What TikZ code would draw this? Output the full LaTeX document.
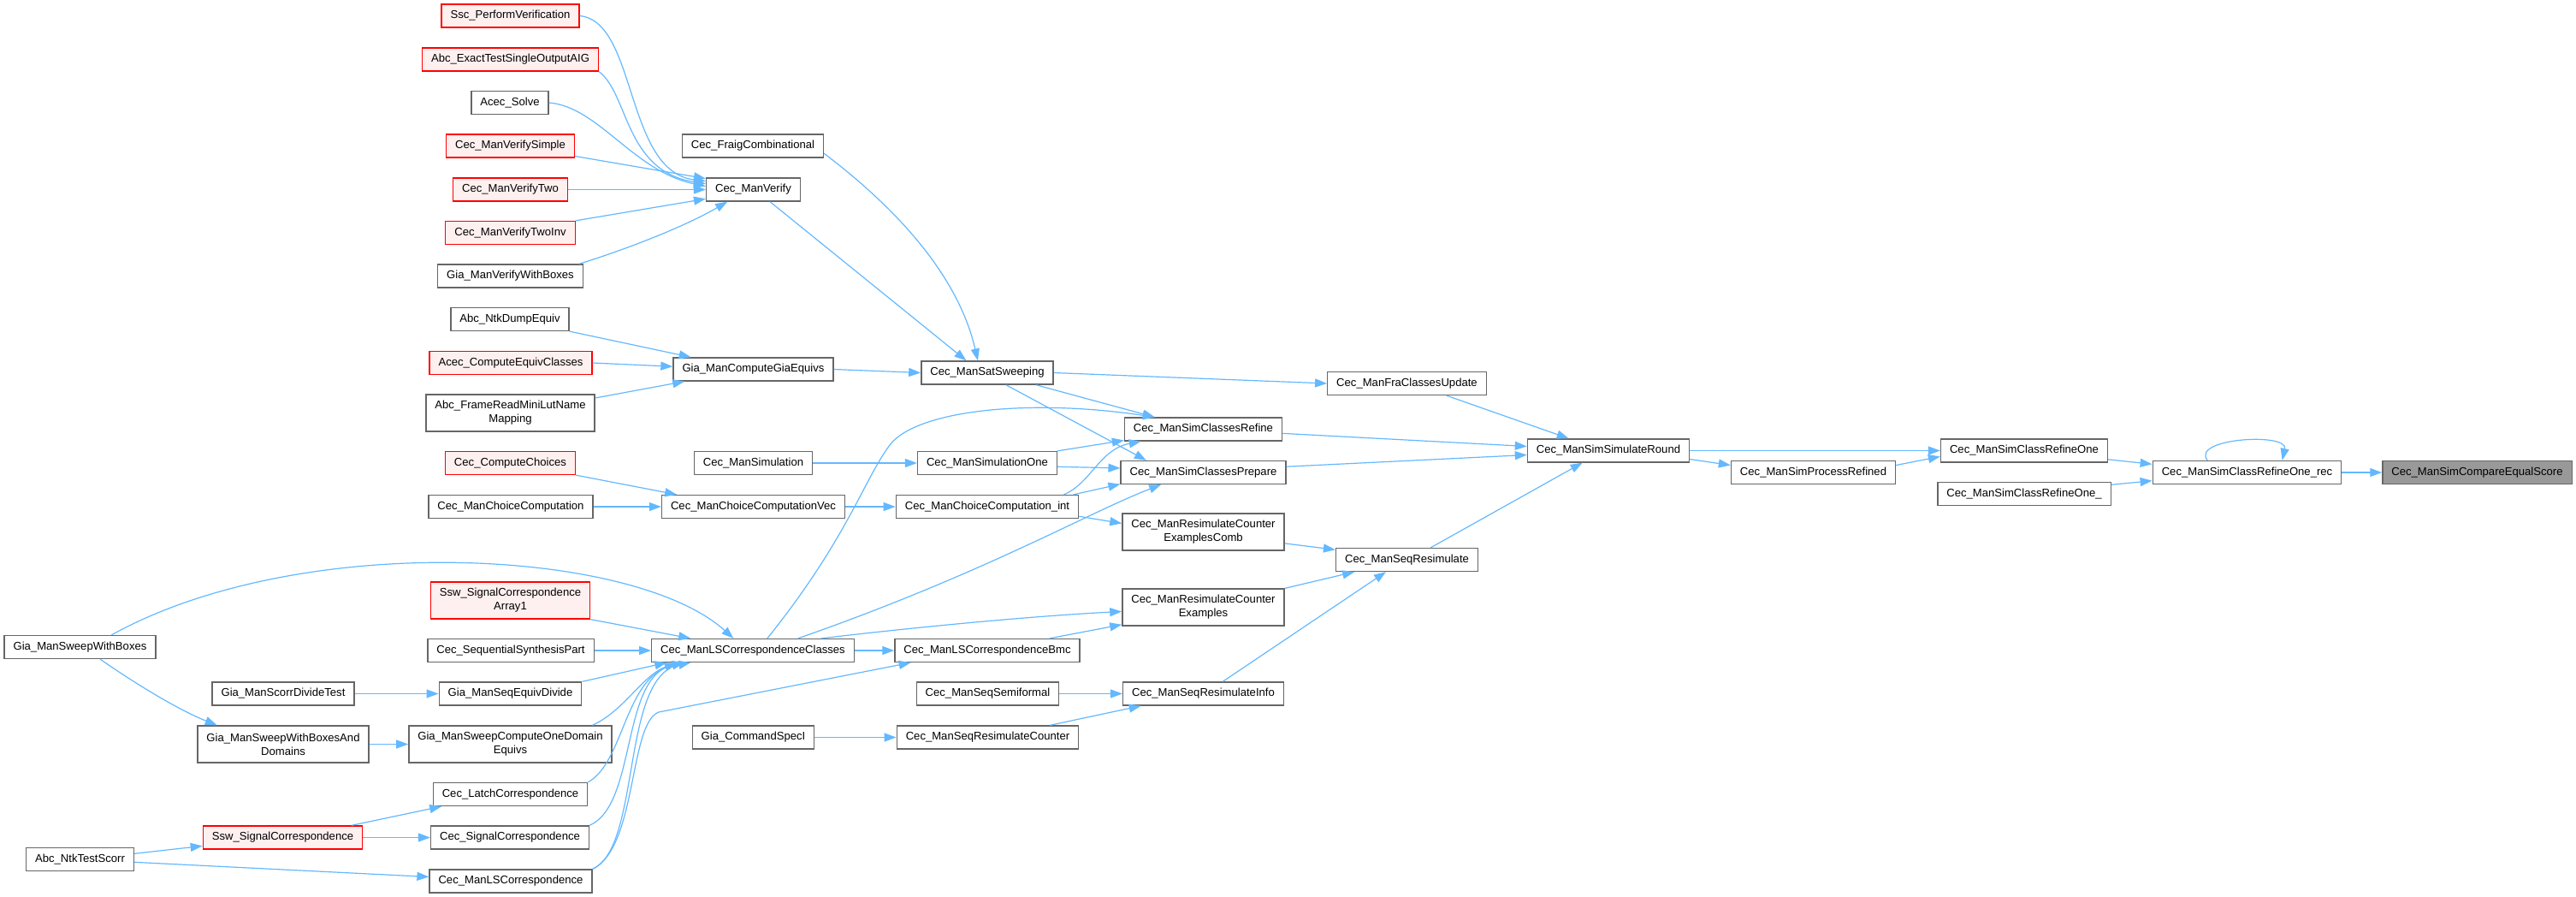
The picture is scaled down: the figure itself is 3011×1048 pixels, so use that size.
\documentclass[tikz,border=0pt]{standalone}
\usepackage{fontspec}
\setmainfont{Liberation Sans}
\usetikzlibrary{arrows.meta}
\definecolor{callblue}{HTML}{63B8FF}
\definecolor{boxgrey}{HTML}{666666}
\definecolor{redfill}{HTML}{FFF0F0}
\definecolor{mainfill}{HTML}{999999}
\begin{document}
\begin{tikzpicture}[x=1pt,y=-1pt,
    fn/.style={draw=boxgrey,fill=white,line width=1.3pt,inner xsep=10.5pt,
        inner ysep=0pt,minimum height=27pt,font=\fontsize{13.1}{16}\selectfont},
    fnred/.style={fn,draw=red,fill=redfill},
    fnmain/.style={fn,fill=mainfill},
    two/.style={minimum height=43pt,align=center},
    call/.style={draw=callblue,line width=1.2pt,-{Triangle[length=14pt,width=10pt]}}]
\useasboundingbox (0,0) rectangle (3011,1048);
% callers, leftmost columns
\node[fn] (sweepboxes) at (93.5,756) {Gia\_ManSweepWithBoxes};
\node[fn] (testscorr) at (93.5,1004) {Abc\_NtkTestScorr};
\node[fn] (scorrtest) at (331,810.5) {Gia\_ManScorrDivideTest};
\node[fn,two] (sweepdomains) at (331,869.5) {Gia\_ManSweepWithBoxesAnd\\Domains};
\node[fnred] (sswcorr) at (330.5,978.5) {Ssw\_SignalCorrespondence};
\node[fnred] (ssc) at (596.5,18.5) {Ssc\_PerformVerification};
\node[fnred] (abcexact) at (596.5,69.5) {Abc\_ExactTestSingleOutputAIG};
\node[fn] (acecsolve) at (596,120) {Acec\_Solve};
\node[fnred] (vsimple) at (596.5,170.5) {Cec\_ManVerifySimple};
\node[fnred] (vtwo) at (596.5,221.5) {Cec\_ManVerifyTwo};
\node[fnred] (vtwoinv) at (596.5,272) {Cec\_ManVerifyTwoInv};
\node[fn] (vboxes) at (596.5,322.5) {Gia\_ManVerifyWithBoxes};
\node[fn] (dumpequiv) at (596,373) {Abc\_NtkDumpEquiv};
\node[fnred] (acecequiv) at (597,424) {Acec\_ComputeEquivClasses};
\node[fn,two] (lutmap) at (596.5,482.5) {Abc\_FrameReadMiniLutName\\Mapping};
\node[fnred] (choices) at (596.5,541) {Cec\_ComputeChoices};
\node[fn] (choicecomp) at (597,592) {Cec\_ManChoiceComputation};
\node[fnred,two] (array1) at (596.5,701.5) {Ssw\_SignalCorrespondence\\Array1};
\node[fn] (synthpart) at (597,760) {Cec\_SequentialSynthesisPart};
\node[fn] (seqdivide) at (596.5,810.5) {Gia\_ManSeqEquivDivide};
\node[fn,two] (onedomain) at (596.5,869.5) {Gia\_ManSweepComputeOneDomain\\Equivs};
\node[fn] (latchcorr) at (596.5,928) {Cec\_LatchCorrespondence};
\node[fn] (signalcorr) at (596,978.5) {Cec\_SignalCorrespondence};
\node[fn] (lscorr) at (597,1029.5) {Cec\_ManLSCorrespondence};
\node[fn] (fraigcomb) at (880,170.5) {Cec\_FraigCombinational};
\node[fn] (manverify) at (880.5,221.5) {Cec\_ManVerify};
\node[fn] (giaequivs) at (880.5,431.5) {Gia\_ManComputeGiaEquivs};
\node[fn] (simulation) at (880.5,541) {Cec\_ManSimulation};
\node[fn] (choicevec) at (880.5,592) {Cec\_ManChoiceComputationVec};
\node[fn] (lscc) at (880,760) {Cec\_ManLSCorrespondenceClasses};
\node[fn] (specI) at (880.5,861.5) {Gia\_CommandSpecI};
% middle columns
\node[fn] (satsweep) at (1154,435.5) {Cec\_ManSatSweeping};
\node[fn] (simone) at (1154,541) {Cec\_ManSimulationOne};
\node[fn] (choiceint) at (1154,592) {Cec\_ManChoiceComputation\_int};
\node[fn] (bmc) at (1154,760) {Cec\_ManLSCorrespondenceBmc};
\node[fn] (semiformal) at (1154.5,810.5) {Cec\_ManSeqSemiformal};
\node[fn] (resimcounter) at (1154.5,861.5) {Cec\_ManSeqResimulateCounter};
\node[fn] (refine) at (1406.5,501.5) {Cec\_ManSimClassesRefine};
\node[fn] (prepare) at (1406.5,552) {Cec\_ManSimClassesPrepare};
\node[fn,two] (rescomb) at (1406.5,621.5) {Cec\_ManResimulateCounter\\ExamplesComb};
\node[fn,two] (rescex) at (1406.5,709.5) {Cec\_ManResimulateCounter\\Examples};
\node[fn] (resiminfo) at (1406.5,810.5) {Cec\_ManSeqResimulateInfo};
\node[fn] (fraupdate) at (1644.5,448) {Cec\_ManFraClassesUpdate};
\node[fn] (seqresim) at (1644.5,654) {Cec\_ManSeqResimulate};
% right columns
\node[fn] (simround) at (1880,526.5) {Cec\_ManSimSimulateRound};
\node[fn] (processref) at (2119.5,552) {Cec\_ManSimProcessRefined};
\node[fn] (refineone) at (2366,526.5) {Cec\_ManSimClassRefineOne};
\node[fn] (refineoneu) at (2366,577) {Cec\_ManSimClassRefineOne\_};
\node[fn] (refinerec) at (2626.5,552) {Cec\_ManSimClassRefineOne\_rec};
\node[fnmain] (equalscore) at (2895.5,552) {Cec\_ManSimCompareEqualScore};
% straight calls
\foreach \a/\b in {vtwo/manverify,giaequivs/satsweep,satsweep/fraupdate,
    simulation/simone,choicecomp/choicevec,choicevec/choiceint,lscc/bmc,
    semiformal/resiminfo,specI/resimcounter,synthpart/lscc,scorrtest/seqdivide,
    sweepdomains/onedomain,sswcorr/signalcorr,simround/refineone,refinerec/equalscore}
    \draw[call] (\a.east) -- (\b.west);
\foreach \a/\b in {vsimple.351/manverify.167,vtwoinv.north east/manverify.191,
    dumpequiv.south east/giaequivs.169,acecequiv.east/giaequivs.178,
    lutmap.10/giaequivs.190,manverify.324/satsweep.150,satsweep.346/refine.166,
    satsweep.327/prepare.168,fraupdate.343/simround.163,refine.357/simround.177,
    prepare.4/simround.183,simone.north east/refine.188,simone.357/prepare.177,
    choices.south east/choicevec.171,choiceint.8/prepare.188,choiceint.354/rescomb.174,
    bmc.11/rescex.192,rescomb.352/seqresim.172,rescex.north east/seqresim.193,
    resiminfo.32/seqresim.210,seqresim.27/simround.205,resimcounter.11/resiminfo.191,
    array1.south east/lscc.169,seqdivide.north east/lscc.188,testscorr.6/sswcorr.186,
    testscorr.357/lscorr.177,sswcorr.10/latchcorr.190,simround.354/processref.175,
    processref.5/refineone.184,refineone.354/refinerec.175,refineoneu.6/refinerec.185}
    \draw[call] (\a) -- (\b);
% curved calls
\draw[call] (ssc.east) .. controls (745,25) and (730,200) .. (manverify.170);
\draw[call] (abcexact.south east) .. controls (735,110) and (730,200) .. (manverify.173);
\draw[call] (acecsolve.east) .. controls (700,125) and (740,200) .. (manverify.176);
\draw[call] (vboxes.10) .. controls (730,292) and (800,265) .. (manverify.205);
\draw[call] (fraigcomb.354) .. controls (1010,215) and (1115,300) .. (satsweep.128);
\draw[call] (choiceint.9) .. controls (1275,565) and (1285,525) .. (refine.191);
\draw[call] (lscc.40) .. controls (990,630) and (1010,560) .. (1040,520)
    .. controls (1070,480) and (1200,465) .. (refine.166);
\draw[call] (lscc.15) .. controls (1150,670) and (1270,600) .. (prepare.196);
\draw[call] (lscc.10) .. controls (1050,735) and (1200,720) .. (rescex.183);
\draw[call] (lscorr.north east) .. controls (745,990) and (735,845) .. (770,832) -- (bmc.189);
\draw[call] (onedomain.13) .. controls (730,830) and (750,790) .. (lscc.189);
\draw[call] (latchcorr.north east) .. controls (730,890) and (730,790) .. (lscc.190);
\draw[call] (signalcorr.north east) .. controls (745,940) and (725,790) .. (lscc.190);
\draw[call] (lscorr.north east) .. controls (750,990) and (725,790) .. (lscc.191);
\draw[call] (sweepboxes.21) .. controls (350,620) and (740,640) .. (lscc.148);
\draw[call] (sweepboxes.329) .. controls (160,800) and (210,830) .. (sweepdomains.164);
\draw[call] (refinerec.163) .. controls (2560,512) and (2675,505) .. (refinerec.19);
\end{tikzpicture}
\end{document}
